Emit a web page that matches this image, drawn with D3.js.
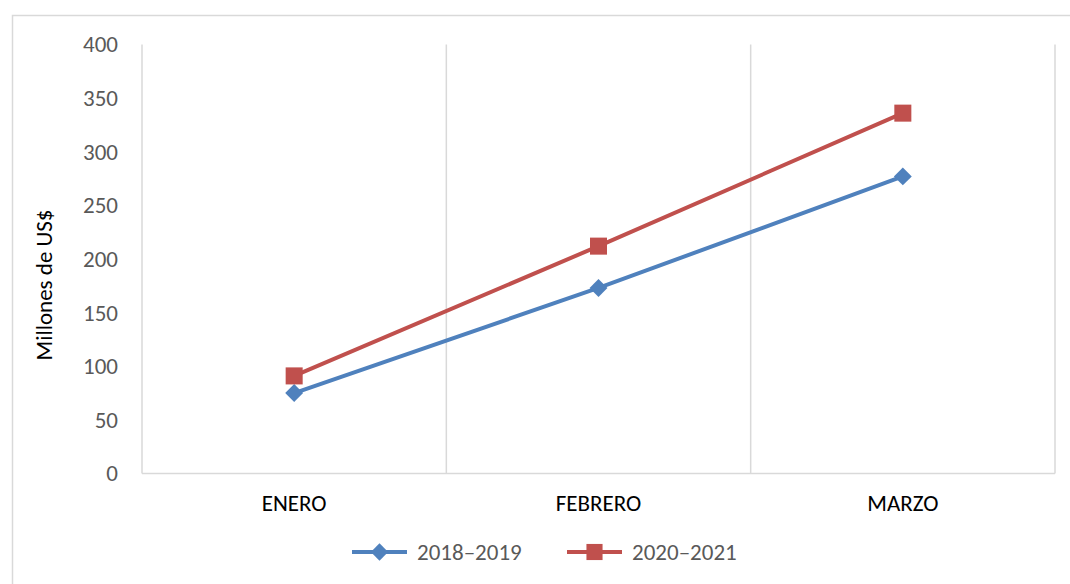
<!DOCTYPE html>
<html>
<head>
<meta charset="utf-8">
<script src="https://cdn.jsdelivr.net/npm/d3@7"></script>
<style>
  html, body { margin: 0; padding: 0; background: #fff; }
  svg { display: block; }
</style>
</head>
<body>
<svg id="chart" width="1070" height="584"></svg>
<script>
// chart data
const months = ["ENERO", "FEBRERO", "MARZO"];
const serie2018 = [75, 173, 277];
const serie2020 = [91, 212, 336];
const yTicks = [0, 50, 100, 150, 200, 250, 300, 350, 400];
const seriesNames = ["2018–2019", "2020–2021"];

const font = "Carlito, Lato, 'Open Sans', sans-serif";
const fontSize = "23px";
const cfg = {
    left: 142, right: 1055, top: 44.5, bottom: 473.5,
    grid: "#d9d9d9", blue: "#4f81bd", red: "#c0504d"
};

const svg = d3.select("#chart");

// outer chart frame (cut off at right and bottom like the source)
svg.append("rect")
    .attr("x", 12.5).attr("y", 15.5)
    .attr("width", 1100).attr("height", 600)
    .attr("fill", "none")
    .attr("stroke", cfg.grid)
    .attr("stroke-width", 1.5);

const x = d3.scaleBand().domain(months).range([cfg.left, cfg.right]);
const y = d3.scaleLinear().domain([0, 400]).range([cfg.bottom, cfg.top]);
const cx = d => x(d) + x.bandwidth() / 2;

// vertical gridlines at category boundaries
const bounds = months.map(m => x(m)).concat([cfg.right]);
svg.append("g").selectAll("line")
    .data(bounds)
    .join("line")
    .attr("x1", d => d).attr("x2", d => d)
    .attr("y1", cfg.top).attr("y2", cfg.bottom)
    .attr("stroke", cfg.grid)
    .attr("stroke-width", 1.5);

// x axis baseline
svg.append("line")
    .attr("x1", cfg.left).attr("x2", cfg.right)
    .attr("y1", cfg.bottom).attr("y2", cfg.bottom)
    .attr("stroke", cfg.grid)
    .attr("stroke-width", 1.5);

// y axis labels
const yAxis = svg.append("g")
    .attr("transform", `translate(${cfg.left},0)`)
    .call(d3.axisLeft(y).tickValues(yTicks).tickSize(0).tickPadding(24));
yAxis.select(".domain").remove();
yAxis.selectAll("text")
    .attr("font-family", font)
    .attr("font-size", fontSize)
    .attr("fill", "#595959");

// x axis labels
const xAxis = svg.append("g")
    .attr("transform", `translate(0,${cfg.bottom})`)
    .call(d3.axisBottom(x).tickSize(0).tickPadding(21));
xAxis.select(".domain").remove();
xAxis.selectAll("text")
    .attr("font-family", font)
    .attr("font-size", fontSize)
    .attr("fill", "#000");

// axis title
svg.append("text")
    .attr("transform", "translate(52,285) rotate(-90)")
    .attr("text-anchor", "middle")
    .attr("font-family", font)
    .attr("font-size", fontSize)
    .attr("fill", "#000")
    .text("Millones de US$");

const line = d3.line().x((d, i) => cx(months[i])).y(d => y(d));

// diamond = square turned 45 degrees, as in the source
function marker(g, shape, size) {
    g.attr("d", d3.symbol().type(d3.symbolSquare).size(size)())
     .attr("transform", function() {
         const t = d3.select(this).attr("transform") || "";
         return shape === "diamond" ? t + " rotate(45)" : t;
     });
}

function drawSeries(values, color, shape) {
    svg.append("path")
        .datum(values)
        .attr("d", line)
        .attr("fill", "none")
        .attr("stroke", color)
        .attr("stroke-width", 4);
    svg.append("g").selectAll("path")
        .data(values)
        .join("path")
        .attr("transform", (d, i) => `translate(${cx(months[i])},${y(d)})`)
        .attr("fill", color)
        .call(marker, shape, shape === "diamond" ? 160 : 290);
}

drawSeries(serie2018, cfg.blue, "diamond");
drawSeries(serie2020, cfg.red, "square");

// legend
const legend = [
    { name: seriesNames[0], color: cfg.blue, shape: "diamond", x: 352 },
    { name: seriesNames[1], color: cfg.red, shape: "square", x: 567 }
];
const lg = svg.append("g").selectAll("g")
    .data(legend)
    .join("g")
    .attr("transform", d => `translate(${d.x},552)`);
lg.append("line")
    .attr("x1", 0).attr("x2", 55)
    .attr("stroke", d => d.color)
    .attr("stroke-width", 4);
lg.each(function(d) {
    d3.select(this).append("path")
        .attr("transform", "translate(27.5,0)")
        .attr("fill", d.color)
        .call(marker, d.shape, d.shape === "diamond" ? 150 : 260);
});
lg.append("text")
    .attr("x", 65)
    .attr("dy", "0.35em")
    .attr("font-family", font)
    .attr("font-size", fontSize)
    .attr("fill", "#595959")
    .text(d => d.name);
</script>
</body>
</html>
